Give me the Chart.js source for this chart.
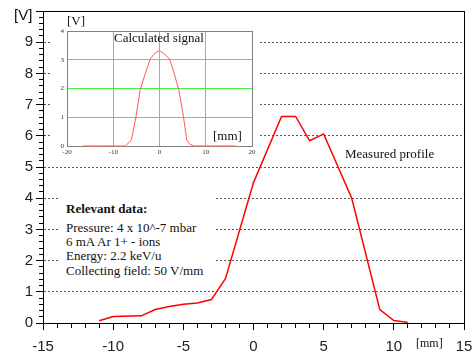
<!DOCTYPE html>
<html>
<head>
<meta charset="utf-8">
<script src="https://cdn.jsdelivr.net/npm/chart.js@4.4.1/dist/chart.umd.min.js"></script>
<style>
  html, body { margin: 0; padding: 0; background: #fff; }
  #wrap { position: relative; width: 475px; height: 356px; overflow: hidden; }
  #mainChart { position: absolute; left: 0; top: 0; }
  #frame { position: absolute; left: 43px; top: 11px; width: 422px; height: 313px; box-sizing: border-box;
           border-top: 1px solid #000; border-right: 1px solid #000; }
  #insetChart { position: absolute; left: 52px; top: 14px; background: #fff; }
  .txt { position: absolute; white-space: nowrap; line-height: 1; color: #111;
         font-family: "Liberation Serif", "Times New Roman", serif; font-size: 13px; }
  #infoBox { position: absolute; left: 60px; top: 188px; width: 154px; height: 94px; background: #fff; }
  #infoBox .lines { position: absolute; left: 6px; top: 32.8px; line-height: 14.3px; }
</style>
</head>
<body>
<div id="wrap">
  <canvas id="mainChart" width="475" height="356"></canvas>
  <div id="frame"></div>
  <div id="infoBox">
    <div class="txt" style="left:6px; top:13.6px; font-weight:bold;">Relevant data:</div>
    <div class="txt lines">Pressure: 4 x 10^-7 mbar<br>6 mA Ar 1+ - ions<br>Energy: 2.2 keV/u<br>Collecting field: 50 V/mm</div>
  </div>
  <canvas id="insetChart" width="206" height="146"></canvas>
  <div class="txt" style="left:14px; top:6.8px; font-family:'Liberation Sans', Arial, sans-serif; font-size:15px;">[V]</div>
  <div class="txt" style="left:416px; top:336.5px; font-size:12px;">[mm]</div>
  <div class="txt" style="left:345px; top:146.7px;">Measured profile</div>
  <div class="txt" style="left:67px; top:13.6px;">[V]</div>
  <div class="txt" style="left:114px; top:30.6px;">Calculated signal</div>
  <div class="txt" style="left:213px; top:128.6px;">[mm]</div>
</div>
<script>
// Measured profile (main chart)
const measuredX = [-11, -10, -8, -7, -6, -5, -4, -3, -2, 0, 2, 3, 4, 5, 7, 9, 10, 11];
const measuredV = [0.07, 0.21, 0.23, 0.43, 0.53, 0.6, 0.64, 0.75, 1.42, 4.5, 6.62, 6.62, 5.84, 6.06, 4.0, 0.43, 0.08, 0.02];
const xLabelEvery = 5;     // labelled x ticks: -15, -10, ... 15
const xMinorStep = 1;
const yMinorStep = 0.2;

// Calculated signal (inset)
const calcX = [-16.5, -7.4, -6.1, -5.1, -4.2, -3.1, -2.0, -1.0, 0, 1.1, 2.2, 3.2, 4.2, 5.2, 5.9, 6.6, 7.5, 16.5];
const calcV = [0, 0, 0.2, 1.0, 1.93, 2.51, 3.03, 3.23, 3.32, 3.2, 3.02, 2.51, 1.93, 1.0, 0.2, 0.06, 0, 0];
const insetXTicks = [-20, -10, 0, 10, 20];
const insetYTicks = [0, 1, 2, 3, 4];

const sansFont = { family: "'Liberation Sans', Arial, sans-serif", size: 15 };
const clear = 'rgba(0,0,0,0)';

function isWhole(v, every) {
  const q = v / every;
  return Math.abs(q - Math.round(q)) < 1e-6;
}

function setTicks(list) {
  return function(scale) {
    scale.ticks = list.map(v => ({ value: v }));
  };
}

function fixSize(w, h) {
  return function(scale) {
    if (w !== null) scale.width = w;
    if (h !== null) scale.height = h;
    scale.paddingLeft = 0;
    scale.paddingRight = 0;
    scale.paddingTop = 0;
    scale.paddingBottom = 0;
  };
}

// Main chart
new Chart(document.getElementById('mainChart'), {
  type: 'line',
  data: {
    datasets: [{
      data: measuredX.map((x, i) => ({ x: x, y: measuredV[i] })),
      borderColor: '#ff0000',
      borderWidth: 1.5,
      pointRadius: 0,
      tension: 0,
      fill: false
    }]
  },
  options: {
    responsive: false,
    animation: false,
    devicePixelRatio: 1,
    layout: { padding: { top: 11, right: 11, left: 0, bottom: 0 } },
    plugins: { legend: { display: false }, tooltip: { enabled: false } },
    scales: {
      x: {
        type: 'linear', position: 'bottom',
        min: -15, max: 15,
        afterFit: fixSize(null, 33),
        ticks: {
          stepSize: xMinorStep, maxTicksLimit: 100,
          font: sansFont, color: '#222', padding: 8,
          autoSkip: false, maxRotation: 0,
          callback: v => (isWhole(v, xLabelEvery) ? String(Math.round(v)) : '')
        },
        grid: {
          drawOnChartArea: false, tickLength: 7, tickColor: '#000',
          // minor ticks: only the first 4px next to the axis
          tickBorderDash: c => (c.tick && isWhole(c.tick.value, xLabelEvery) ? [] : [4, 100])
        },
        border: { color: '#000', width: 1 }
      },
      y: {
        type: 'linear', position: 'left',
        min: 0, max: 10,
        afterFit: fixSize(43, null),
        ticks: {
          stepSize: yMinorStep, maxTicksLimit: 100,
          font: sansFont, color: '#222', padding: 3, autoSkip: false,
          callback: v => (isWhole(v, 1) && Math.round(v) < 10 ? String(Math.round(v)) : '')
        },
        grid: {
          tickLength: 7,
          tickColor: '#000',
          tickBorderDash: c => (c.tick && isWhole(c.tick.value, 1) ? [] : [0, 3, 4, 100]),
          color: c => {
            const v = c.tick ? c.tick.value : 0;
            return isWhole(v, 1) && v > 0.5 && v < 9.5 ? '#555' : clear;
          },
          lineWidth: 1
        },
        border: { color: '#000', width: 1, dash: [2, 2] }
      }
    }
  }
});

// Inset chart
const tinyFont = { family: "'Liberation Serif', 'Times New Roman', serif", size: 7 };
const frameGray = '#808080';
const gridGreen = '#44ee44';

new Chart(document.getElementById('insetChart'), {
  type: 'line',
  data: {
    datasets: [{
      data: calcX.map((x, i) => ({ x: x, y: calcV[i] })),
      borderColor: '#ff5a5a',
      borderWidth: 1,
      pointRadius: 0,
      tension: 0,
      fill: false,
      clip: false
    }]
  },
  options: {
    responsive: false,
    animation: false,
    devicePixelRatio: 1,
    layout: { padding: { top: 17, right: 6, left: 0, bottom: 0 } },
    plugins: { legend: { display: false }, tooltip: { enabled: false } },
    scales: {
      x: {
        type: 'linear', min: -20, max: 20,
        afterBuildTicks: setTicks(insetXTicks),
        afterFit: fixSize(null, 14),
        ticks: { font: tinyFont, color: '#333', padding: 2, autoSkip: false, maxRotation: 0 },
        grid: {
          drawTicks: false,
          color: c => (c.tick && (c.tick.value === -20 || c.tick.value === 20) ? frameGray : gridGreen)
        },
        border: { color: frameGray }
      },
      y: {
        type: 'linear', min: 0, max: 4,
        afterBuildTicks: setTicks(insetYTicks),
        afterFit: fixSize(15, null),
        ticks: { font: tinyFont, color: '#333', padding: 3, autoSkip: false },
        grid: {
          drawTicks: false,
          color: c => (c.tick && (c.tick.value === 0 || c.tick.value === 4) ? frameGray : gridGreen)
        },
        border: { color: frameGray }
      }
    }
  }
});
</script>
</body>
</html>
